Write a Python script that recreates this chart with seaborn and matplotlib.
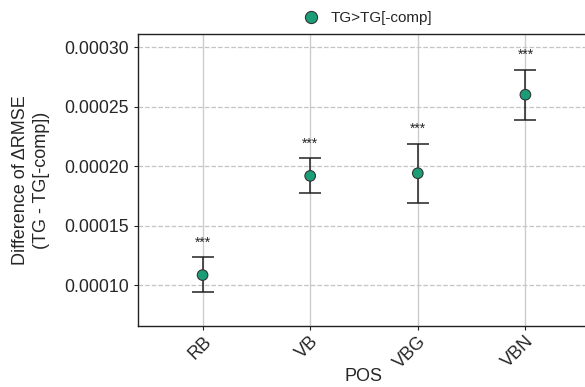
# Import necessary libraries
import matplotlib
matplotlib.use('Agg')
import matplotlib.pyplot as plt
import seaborn as sns
import pandas as pd

# Define the dataset
pos = ['RB', 'VB', 'VBG', 'VBN']
mean_diff = [0.0001084, 0.0001918, 0.0001940, 0.0002600]
lower = [0.0000941, 0.0001773, 0.0001692, 0.0002388]
upper = [0.0001235, 0.0002065, 0.0002188, 0.0002811]
stars = ['***', '***', '***', '***']
series = 'TG>TG[-comp]'

df = pd.DataFrame({'POS': pos, 'diff': mean_diff, 'lo': lower, 'hi': upper,
                   'group': series})

sns.set_style('white')
plt.rcParams['font.family'] = ['Liberation Sans', 'DejaVu Sans']

fig = plt.figure(figsize=(5.85, 3.87), dpi=100)
ax = fig.add_axes([0.2359, 0.1576, 0.7726, 0.7544])

# error bars first, then the points on top
yerr = [df['diff'] - df['lo'], df['hi'] - df['diff']]
ax.errorbar(df['POS'], df['diff'], yerr=yerr, fmt='none', ecolor='#222222',
            elinewidth=1.1, capsize=8, capthick=1.1, zorder=2)
sns.scatterplot(data=df, x='POS', y='diff', hue='group', palette=['#1b9e77'],
                s=58, edgecolor='#333333', linewidth=0.8, zorder=3, ax=ax)

# significance stars
for i, row in df.iterrows():
    ax.text(i, row['hi'] + 0.0000065, stars[i], ha='center', va='bottom',
            fontsize=10)

ax.set_xlim(-0.6, 3.6)
ax.set_ylim(0.0000656, 0.000311)
ax.set_yticks([0.00010, 0.00015, 0.00020, 0.00025, 0.00030])
ax.set_yticklabels(['0.00010', '0.00015', '0.00020', '0.00025', '0.00030'])

ax.grid(axis='x', color='#cccccc', linewidth=1.0, linestyle='-')
ax.grid(axis='y', color='#c4c4c4', linewidth=0.9, linestyle='--')
ax.set_axisbelow(True)

for s in ['top', 'left', 'bottom']:
    ax.spines[s].set_color('#222222')
    ax.spines[s].set_linewidth(1.0)
ax.spines['right'].set_visible(False)

ax.tick_params(axis='both', labelsize=12.7, length=3, color='#222222',
               bottom=True, left=True)
ax.tick_params(axis='x', labelsize=13, pad=2)
plt.setp(ax.get_xticklabels(), rotation=45, ha='right', rotation_mode='anchor')

ax.set_xlabel('POS', fontsize=13, labelpad=-3)
ax.set_ylabel('Difference of \u0394RMSE\n(TG - TG[-comp])', fontsize=13,
              labelpad=10, linespacing=1.35)

ax.legend(loc='lower center', bbox_to_anchor=(0.5, 1.0), frameon=False,
          fontsize=11, handletextpad=0.3, borderaxespad=0.2, markerscale=1.15)

fig.savefig('out.png', dpi=100)
